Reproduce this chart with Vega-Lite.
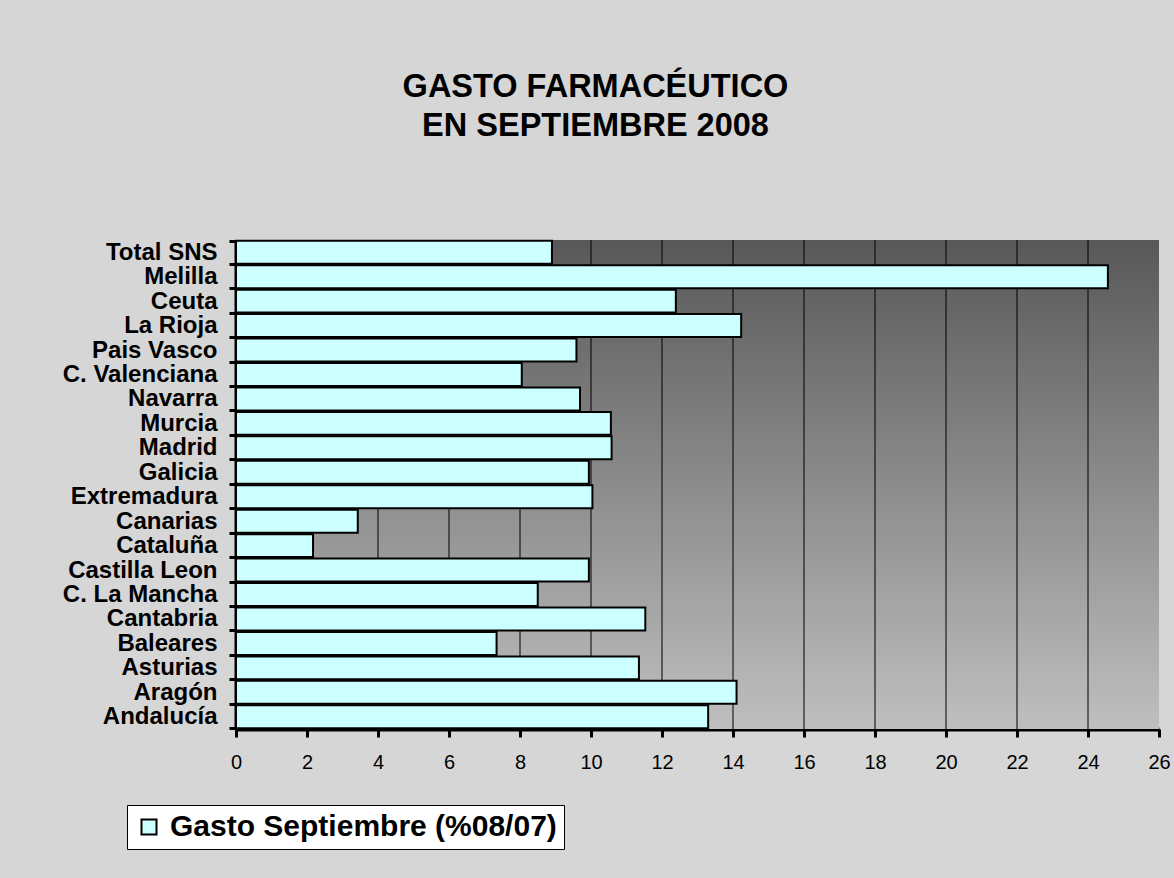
{
  "$schema": "https://vega.github.io/schema/vega-lite/v6.json",
  "width": 923,
  "height": 489,
  "autosize": {"type": "none"},
  "padding": {"left": 236, "top": 240, "right": 15, "bottom": 149},
  "background": "#d6d6d6",
  "title": {
    "text": ["GASTO FARMACÉUTICO", "EN SEPTIEMBRE 2008"],
    "font": "Liberation Sans",
    "fontSize": 32.5,
    "fontWeight": "bold",
    "color": "black",
    "anchor": "middle",
    "frame": "group",
    "dx": -102,
    "offset": 86,
    "lineHeight": 39
  },
  "config": {"view": {"stroke": null}, "font": "Liberation Sans"},
  "layer": [
    {
      "data": {"values": [{"a": 1}]},
      "mark": {
        "type": "rect",
        "fill": {
          "gradient": "linear",
          "x1": 0, "y1": 0, "x2": 0, "y2": 1,
          "stops": [
            {"offset": 0, "color": "#585858"},
            {"offset": 1, "color": "#bfbfbf"}
          ]
        }
      },
      "encoding": {
        "x": {"datum": 0, "type": "quantitative", "scale": {"domain": [0, 26], "nice": false}},
        "x2": {"datum": 26}
      }
    },
    {
      "data": {"values": [{"v": 2}, {"v": 4}, {"v": 6}, {"v": 8}, {"v": 10}, {"v": 12}, {"v": 14}, {"v": 16}, {"v": 18}, {"v": 20}, {"v": 22}, {"v": 24}]},
      "mark": {"type": "rule", "color": "black", "strokeWidth": 1},
      "encoding": {"x": {"field": "v", "type": "quantitative"}}
    },
    {
      "data": {"values": [
        {"region": "Total SNS", "value": 8.9, "serie": "Gasto Septiembre (%08/07)"},
        {"region": "Melilla", "value": 24.56, "serie": "Gasto Septiembre (%08/07)"},
        {"region": "Ceuta", "value": 12.39, "serie": "Gasto Septiembre (%08/07)"},
        {"region": "La Rioja", "value": 14.23, "serie": "Gasto Septiembre (%08/07)"},
        {"region": "Pais Vasco", "value": 9.59, "serie": "Gasto Septiembre (%08/07)"},
        {"region": "C. Valenciana", "value": 8.05, "serie": "Gasto Septiembre (%08/07)"},
        {"region": "Navarra", "value": 9.69, "serie": "Gasto Septiembre (%08/07)"},
        {"region": "Murcia", "value": 10.56, "serie": "Gasto Septiembre (%08/07)"},
        {"region": "Madrid", "value": 10.58, "serie": "Gasto Septiembre (%08/07)"},
        {"region": "Galicia", "value": 9.94, "serie": "Gasto Septiembre (%08/07)"},
        {"region": "Extremadura", "value": 10.04, "serie": "Gasto Septiembre (%08/07)"},
        {"region": "Canarias", "value": 3.43, "serie": "Gasto Septiembre (%08/07)"},
        {"region": "Cataluña", "value": 2.17, "serie": "Gasto Septiembre (%08/07)"},
        {"region": "Castilla Leon", "value": 9.94, "serie": "Gasto Septiembre (%08/07)"},
        {"region": "C. La Mancha", "value": 8.5, "serie": "Gasto Septiembre (%08/07)"},
        {"region": "Cantabria", "value": 11.53, "serie": "Gasto Septiembre (%08/07)"},
        {"region": "Baleares", "value": 7.34, "serie": "Gasto Septiembre (%08/07)"},
        {"region": "Asturias", "value": 11.35, "serie": "Gasto Septiembre (%08/07)"},
        {"region": "Aragón", "value": 14.1, "serie": "Gasto Septiembre (%08/07)"},
        {"region": "Andalucía", "value": 13.3, "serie": "Gasto Septiembre (%08/07)"}
      ]},
      "mark": {"type": "bar", "stroke": "black", "strokeWidth": 2},
      "encoding": {
        "y": {
          "field": "region",
          "type": "nominal",
          "sort": null,
          "scale": {"paddingInner": 0.06, "paddingOuter": 0.03},
          "axis": {
            "title": null,
            "domainColor": "black",
            "domainWidth": 4,
            "tickColor": "black",
            "tickWidth": 3,
            "tickSize": 7,
            "tickBand": "extent",
            "labelFont": "Liberation Sans",
            "labelFontSize": 24,
            "labelFontWeight": "bold",
            "labelColor": "black",
            "labelPadding": 12,
            "labelLimit": 300
          }
        },
        "x": {
          "field": "value",
          "type": "quantitative",
          "axis": {
            "title": null,
            "values": [0, 2, 4, 6, 8, 10, 12, 14, 16, 18, 20, 22, 24, 26],
            "grid": false,
            "domainColor": "black",
            "domainWidth": 4,
            "tickColor": "black",
            "tickWidth": 3,
            "tickSize": 8,
            "labelFont": "Liberation Sans",
            "labelFontSize": 20,
            "labelColor": "black",
            "labelPadding": 15,
            "labelFlush": false
          }
        },
        "fill": {
          "field": "serie",
          "type": "nominal",
          "scale": {"range": ["#ccffff"]},
          "legend": {
            "title": null,
            "orient": "none",
            "legendX": -109,
            "legendY": 565,
            "fillColor": "white",
            "strokeColor": "black",
            "padding": 7,
            "symbolType": "square",
            "symbolSize": 225,
            "symbolStrokeColor": "black",
            "symbolStrokeWidth": 2,
            "labelFont": "Liberation Sans",
            "labelFontSize": 30,
            "labelFontWeight": "bold",
            "labelColor": "black",
            "labelOffset": 6,
            "labelLimit": 600
          }
        }
      }
    }
  ]
}
